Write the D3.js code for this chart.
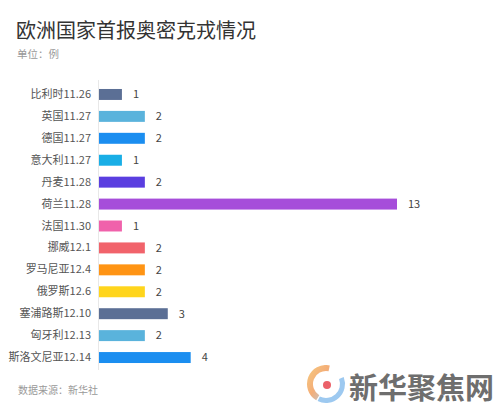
<!DOCTYPE html>
<html><head><meta charset="utf-8">
<script src="https://cdn.jsdelivr.net/npm/d3@7/dist/d3.min.js"></script>
<style>html,body{margin:0;padding:0;background:#fff;}svg{display:block;}</style>
</head><body>
<svg id="c" width="500" height="411"></svg>
<script>
const categories = ["比利时11.26","英国11.27","德国11.27","意大利11.27","丹麦11.28","荷兰11.28","法国11.30","挪威12.1","罗马尼亚12.4","俄罗斯12.6","塞浦路斯12.10","匈牙利12.13","斯洛文尼亚12.14"];
const values = [1,2,2,1,2,13,1,2,2,2,3,2,4];
const colors = ["#5b6f95","#5ab3dc","#1b8ef0","#19aee6","#5a3ee0","#a64dda","#f062ab","#f1636b","#ff9414","#ffd51c","#5b6f95","#5ab3dc","#1b8ef0"];
const title = "欧洲国家首报奥密克戎情况";
const unit = "单位：例";
const source = "数据来源：新华社";

const font = "'Noto Sans CJK SC','Noto Sans',sans-serif";
const svg = d3.select("#c");

const x = d3.scaleLinear().domain([0, 13]).range([99, 397]);
const y = d3.scaleBand().domain(categories).range([83.5, 368.5]).paddingInner(0.5).paddingOuter(0.25);

svg.append("text").attr("x", 16).attr("y", 38).attr("font-family", font)
  .attr("font-size", 20).attr("fill", "#333").text(title);
svg.append("text").attr("x", 17).attr("y", 58).attr("font-family", font)
  .attr("font-size", 10.5).attr("fill", "#999").text(unit);

// axis line
svg.append("line").attr("x1", 98.5).attr("x2", 98.5).attr("y1", 80).attr("y2", 370)
  .attr("stroke", "#e8e8e8").attr("stroke-width", 1);

const yAxis = d3.axisLeft(y).tickSize(0).tickPadding(8);
const ga = svg.append("g").attr("transform", "translate(99,0)").call(yAxis);
ga.select(".domain").remove();
ga.selectAll("text").attr("font-family", font).attr("font-size", 11).attr("fill", "#555");

svg.selectAll("rect.bar").data(values).enter().append("rect")
  .attr("class", "bar")
  .attr("x", x(0))
  .attr("y", (d, i) => y(categories[i]))
  .attr("width", d => x(d) - x(0))
  .attr("height", y.bandwidth())
  .attr("fill", (d, i) => colors[i]);

svg.selectAll("text.val").data(values).enter().append("text")
  .attr("class", "val")
  .attr("x", d => x(d) + 11)
  .attr("y", (d, i) => y(categories[i]) + y.bandwidth() / 2)
  .attr("dy", "0.35em")
  .attr("font-family", font).attr("font-size", 11).attr("fill", "#444")
  .text(d => d);

svg.append("text").attr("x", 18).attr("y", 394).attr("font-family", font)
  .attr("font-size", 10).attr("fill", "#999").text(source);

// watermark logo
const defs = svg.append("defs");
const lg = defs.append("linearGradient").attr("id", "lg").attr("x1", "0").attr("y1", "0").attr("x2", "1").attr("y2", "1");
lg.append("stop").attr("offset", "0").attr("stop-color", "#f5c26b");
lg.append("stop").attr("offset", "0.5").attr("stop-color", "#f3a060");
lg.append("stop").attr("offset", "1").attr("stop-color", "#9cc7ee");
const logo = svg.append("g").attr("opacity", 0.85);
const arc = d3.arc();
logo.append("path").attr("transform", "translate(326,384)")
  .attr("d", arc({innerRadius: 13, outerRadius: 19, startAngle: -2.6, endAngle: 0.2}))
  .attr("fill", "url(#lg)");
logo.append("path").attr("transform", "translate(326,384)")
  .attr("d", arc({innerRadius: 14, outerRadius: 19, startAngle: 1.2, endAngle: 3.6}))
  .attr("fill", "#8cc0ee");
logo.append("circle").attr("cx", 327).attr("cy", 385).attr("r", 4).attr("fill", "#e8464f");
logo.append("text").attr("x", 349).attr("y", 399).attr("font-family", font)
  .attr("font-size", 29).attr("font-weight", "bold").attr("fill", "#555").text("新华聚焦网");
</script>
</body></html>
